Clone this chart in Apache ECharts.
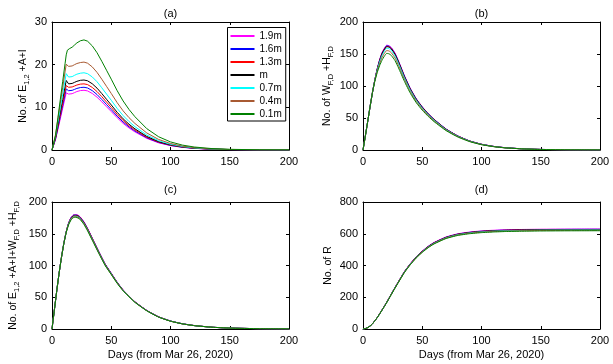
<!DOCTYPE html>
<html><head><meta charset="utf-8">
<script src="https://cdn.jsdelivr.net/npm/echarts@6/dist/echarts.min.js"></script>
<style>html,body{margin:0;padding:0;background:#fff}#c{width:613px;height:364px}</style>
</head><body><div id="c"></div>
<script>
// ---------- data ----------
const seriesNames = ['1.9m', '1.6m', '1.3m', 'm', '0.7m', '0.4m', '0.1m'];
const seriesColors = ['#ff00ff', '#0000ff', '#ff0000', '#000000', '#00ffff', '#a85a32', '#008000'];
const xTicks = [0, 50, 100, 150, 200];
const panelTitles = ['(a)', '(b)', '(c)', '(d)'];
const xLabel = 'Days (from Mar 26, 2020)';

// panel (a): No. of E1,2 + A + I
const daysA = [0,1,3,5,7,9,11,12,13,14,15,17,19,21,24,27,30,34,38,42,46,50,55,60,65,70,80,90,100,110,120,135,150,175,200];
const a_19m = [0,0,2.44,4.87,7.31,9.75,12.18,13.4,13.25,13.1,13.0,13.2,13.45,13.7,13.93,14.0,13.85,13.25,12.38,11.29,10.15,9.01,7.55,6.24,5.16,4.24,2.72,1.68,1.03,0.62,0.38,0.18,0.09,0.03,0.01];
const a_16m = [0,0,2.6,5.2,7.8,10.4,13.0,14.3,14.1,13.9,13.8,13.98,14.2,14.43,14.64,14.7,14.54,13.91,13.0,11.86,10.66,9.46,7.92,6.56,5.42,4.45,2.85,1.77,1.08,0.66,0.4,0.19,0.09,0.03,0.01];
const a_13m = [0,0,2.75,5.49,8.24,10.98,13.73,15.1,14.9,14.7,14.6,14.78,15.0,15.23,15.44,15.5,15.33,14.66,13.7,12.5,11.24,9.98,8.35,6.91,5.71,4.69,3.0,1.86,1.14,0.69,0.42,0.2,0.1,0.03,0.01];
const a_m   = [0,0,2.96,5.93,8.89,11.85,14.8,16.3,15.9,15.5,15.4,15.6,15.85,16.1,16.33,16.4,16.22,15.52,14.5,13.23,11.89,10.56,8.84,7.31,6.04,4.96,3.18,1.97,1.21,0.73,0.45,0.21,0.1,0.03,0.01];
const a_07m = [0,0,3.25,6.51,9.76,13.0,16.3,17.9,17.5,17.1,17.0,17.2,17.5,17.77,18.0,18.1,17.89,17.12,16.0,14.59,13.12,11.65,9.75,8.07,6.67,5.47,3.51,2.17,1.33,0.81,0.49,0.23,0.11,0.04,0.01];
const a_04m = [0,0,3.66,7.31,10.96,14.6,18.3,20.1,19.85,19.6,19.5,19.7,20.0,20.27,20.5,20.6,20.35,19.47,18.19,16.6,14.92,13.25,11.09,9.18,7.58,6.22,3.99,2.47,1.52,0.92,0.56,0.26,0.13,0.04,0.02];
const a_01m = [0,0,3.4,7.6,11.8,16.0,20.2,22.3,23.4,23.6,23.8,24.1,24.6,25.1,25.6,25.8,25.5,24.4,22.8,20.8,18.7,16.6,13.9,11.5,9.5,7.8,5.0,3.1,1.9,1.15,0.7,0.33,0.16,0.05,0.02];

// panels (b), (c), (d) share these days
const daysB = [0,2,4,6,8,10,12,14,16,18,20,22,24,27,30,35,40,45,50,55,60,70,80,90,100,110,120,135,150,175,200];

// panel (b): No. of WF,D + HF,D
const b_19m = [0,22,45,68,90,110,127,141,152,159,163.8,163,160,151.5,139,116,96,80,67.5,57,48,33,22,14.2,9,5.7,3.6,1.8,0.9,0.3,0.1];
const b_16m = [0,22,45,68,90,109.8,126.6,140.4,151.2,158.2,163.0,162.2,159.2,150.7,138.3,115.4,95.5,79.6,67.2,56.7,47.8,32.8,21.9,14.1,9.0,5.7,3.6,1.8,0.9,0.3,0.1];
const b_13m = [0,22,45,68,90,109.6,126.2,139.7,150.3,157.3,162.0,161.2,158.2,149.8,137.5,114.7,94.9,79.1,66.8,56.4,47.5,32.6,21.8,14.0,8.9,5.6,3.56,1.78,0.89,0.3,0.1];
const b_m   = [0,22,45,68,90,109.5,125.9,139.3,149.9,156.8,161.5,160.7,157.8,149.4,137.1,114.4,94.7,78.9,66.6,56.2,47.3,32.5,21.7,14.0,8.9,5.6,3.55,1.77,0.89,0.3,0.1];
const b_07m = [0,22,45,68,90,109.0,124.8,137.5,147.6,154.4,159.0,158.3,155.4,147.1,135.0,112.6,93.2,77.7,65.5,55.3,46.6,32.0,21.4,13.8,8.7,5.5,3.5,1.75,0.87,0.29,0.1];
const b_04m = [0,22,45,68,90,108.3,123.1,134.9,144.2,150.9,155.4,154.7,151.8,143.8,131.9,110.1,91.1,75.9,64.1,54.1,45.6,31.3,20.9,13.5,8.5,5.4,3.4,1.7,0.85,0.28,0.09];
const b_01m = [0,22,45,68,90,107.4,121.0,131.7,140.1,146.6,151.0,150.3,147.5,139.7,128.2,107.0,88.5,73.8,62.2,52.6,44.3,30.4,20.3,13.1,8.3,5.3,3.3,1.7,0.8,0.28,0.09];

// panel (c): No. of E1,2 + A + I + WF,D + HF,D
const c_19m = [0,30,60,88,113,135,153.5,167,175.5,179.5,180,179.3,176.2,168.7,158.6,139.4,120.2,102,87.9,73.7,61.6,42.9,29.3,19.2,12.6,8.3,5.5,2.8,1.46,0.5,0.17];
const c_16m = [0,30,60,88,113,135,153.4,166.8,175.1,179.2,179.7,178.7,175.7,168.2,158.1,139,119.8,101.7,87.6,73.5,61.4,42.8,29.2,19.1,12.6,8.3,5.4,2.8,1.46,0.5,0.17];
const c_13m = [0,30,60,88,113,135,153.2,166.5,174.6,178.7,179.2,178.2,175.2,167.7,157.6,138.6,119.5,101.4,87.3,73.3,61.2,42.7,29.1,19.1,12.5,8.2,5.4,2.8,1.45,0.5,0.17];
const c_m   = [0,30,60,88,113,135,153,166,174,178,178.5,177.5,174.5,167,157,138,119,101,87,73,61,42.5,29,19,12.5,8.2,5.4,2.8,1.45,0.5,0.17];
const c_07m = [0,30,60,88,113,135,152.8,165.5,173.4,177.3,177.8,176.8,173.8,166.3,156.4,137.4,118.5,100.6,86.7,72.7,60.8,42.3,28.9,18.9,12.5,8.2,5.4,2.8,1.44,0.5,0.17];
const c_04m = [0,30,60,88,113,134.8,152.5,164.9,172.6,176.6,177.1,176.1,173.1,165.7,155.7,136.9,118,100.2,86.3,72.4,60.5,42.2,28.8,18.8,12.4,8.1,5.4,2.8,1.44,0.5,0.17];
const c_01m = [0,30,60,88,112.8,134.5,151.8,164,171.5,175.3,175.8,174.8,171.9,164.5,154.6,135.9,117.2,99.5,85.7,71.9,60.1,41.9,28.6,18.7,12.3,8.1,5.3,2.8,1.43,0.5,0.17];

// panel (d): No. of R
const d_19m = [0,3,9.1,19.1,33.2,52.3,72.5,95.6,119.8,143.9,169.1,195.2,222.4,261.7,299.9,362.3,412.6,455.9,491.1,521.3,545.5,579.7,599.8,610.9,617.9,622,625,627,628.5,629.5,630];
const d_16m = [0,3,9,19.1,33.1,52.2,72.2,95.3,119.4,143.5,168.5,194.6,221.7,260.8,299,361.2,411.3,454.4,489.6,519.7,543.7,577.8,597.9,608.9,616,620,623,625,626.5,627.5,628];
const d_13m = [0,3,9,19,33.1,52.1,72.1,95.2,119.2,143.2,168.3,194.3,221.4,260.4,298.5,360.6,410.7,453.7,488.8,518.8,542.9,576.9,597,608,615,619,622,624,625.5,626.5,627];
const d_m   = [0,3,9,19,33,52,72,95,119,143,168,194,221,260,298,360,410,453,488,518,542,576,596,607,614,618,621,623,624.5,625.5,626];
const d_07m = [0,3,9,18.9,32.9,51.8,71.8,94.7,118.6,142.5,167.5,193.4,220.3,259.2,297,358.8,408.7,451.6,486.4,516.3,540.3,574.2,594.1,605.1,612,616,619,621,622.5,623.5,624];
const d_04m = [0,3,8.9,18.9,32.8,51.7,71.5,94.4,118.2,142.1,166.9,192.8,219.6,258.3,296.1,357.7,407.4,450.1,484.9,514.7,538.5,572.3,592.2,603.1,610,614,617,619,620.5,621.5,622];
const d_01m = [0,3,8.9,18.8,32.6,51.4,71.2,93.9,117.7,141.4,166.1,191.8,218.5,257.1,294.7,356,405.4,447.9,482.5,512.2,535.9,569.6,589.3,600.2,607,611,614,616,617.5,618.5,619];

const yMaxes = [30, 200, 200, 800];
const yIntervals = [10, 50, 50, 200];

// ---------- build ----------
const FONT = 'Liberation Sans, Arial, Helvetica, sans-serif';
const panelDays = [daysA, daysB, daysB, daysB];
const panelValues = [
  [a_19m, a_16m, a_13m, a_m, a_07m, a_04m, a_01m],
  [b_19m, b_16m, b_13m, b_m, b_07m, b_04m, b_01m],
  [c_19m, c_16m, c_13m, c_m, c_07m, c_04m, c_01m],
  [d_19m, d_16m, d_13m, d_m, d_07m, d_04m, d_01m]
];
const grids = [
  {left: 52, top: 22, width: 237, height: 128},
  {left: 363, top: 22, width: 237, height: 128},
  {left: 52, top: 202, width: 237, height: 127},
  {left: 363, top: 202, width: 237, height: 127}
];
const yNames = [
  '{t|No. of E}{s|1,2}{t| +A+I}',
  '{t|No. of W}{s|F,D}{t| +H}{s|F,D}',
  '{t|No. of E}{s|1,2}{t| +A+I+W}{s|F,D}{t| +H}{s|F,D}',
  '{t|No. of R}'
];
const yNameGaps = [21, 28, 31, 27];
const richName = {
  t: {fontSize: 10.5, fontFamily: FONT, color: '#000', lineHeight: 15, verticalAlign: 'middle'},
  s: {fontSize: 7.5, fontFamily: FONT, color: '#000', lineHeight: 9, verticalAlign: 'bottom'}
};

const xAxes = [], yAxes = [], series = [], titles = [];
const tickStyle = {show: true, inside: true, length: 3, lineStyle: {color: '#000', width: 1}};
const lineStyleAx = {show: true, onZero: false, lineStyle: {color: '#000', width: 1}};
grids.forEach((g, i) => {
  const bottomRow = i >= 2;
  xAxes.push({
    gridIndex: i, type: 'value', position: 'bottom', min: 0, max: 200, interval: 50,
    axisLine: lineStyleAx, axisTick: tickStyle, splitLine: {show: false},
    axisLabel: {color: '#000', fontSize: 11, fontFamily: FONT, margin: 6},
    name: bottomRow ? xLabel : '', nameLocation: 'middle', nameGap: 20,
    nameTextStyle: {fontSize: 11, fontFamily: FONT, color: '#000'}
  });
  xAxes.push({
    gridIndex: i, type: 'value', position: 'top', min: 0, max: 200, interval: 50,
    axisLine: lineStyleAx, axisTick: tickStyle, splitLine: {show: false},
    axisLabel: {show: false}
  });
  yAxes.push({
    gridIndex: i, type: 'value', position: 'left', min: 0, max: yMaxes[i], interval: yIntervals[i],
    axisLine: lineStyleAx, axisTick: tickStyle, splitLine: {show: false},
    axisLabel: {color: '#000', fontSize: 11, fontFamily: FONT, margin: 5},
    name: yNames[i], nameLocation: 'middle', nameGap: yNameGaps[i], nameRotate: 90,
    nameTextStyle: {fontSize: 10.5, fontFamily: FONT, color: '#000', rich: richName}
  });
  yAxes.push({
    gridIndex: i, type: 'value', position: 'right', min: 0, max: yMaxes[i], interval: yIntervals[i],
    axisLine: lineStyleAx, axisTick: tickStyle, splitLine: {show: false},
    axisLabel: {show: false}
  });
  titles.push({
    text: panelTitles[i], left: g.left + g.width / 2, top: g.top - (bottomRow ? 18 : 14),
    textAlign: 'center', padding: 0,
    textStyle: {fontSize: 11, fontWeight: 'normal', fontFamily: FONT, color: '#000'}
  });
  panelValues[i].forEach((vals, k) => {
    series.push({
      name: seriesNames[k], type: 'line', xAxisIndex: 2 * i, yAxisIndex: 2 * i,
      data: panelDays[i].map((d, j) => [d, vals[j]]),
      symbol: 'none', smooth: i === 0 ? false : 0.15,
      lineStyle: {color: seriesColors[k], width: 1},
      itemStyle: {color: seriesColors[k]},
      animation: false, silent: true
    });
  });
});

const chart = echarts.init(document.getElementById('c'), null, {renderer: 'canvas'});
chart.setOption({
  animation: false,
  backgroundColor: '#fff',
  title: titles,
  grid: grids.map(g => Object.assign({containLabel: false, outerBoundsMode: 'none'}, g)),
  xAxis: xAxes,
  yAxis: yAxes,
  legend: {
    data: seriesNames, orient: 'vertical', left: 227.5, top: 27.5,
    padding: [2.5, 4, 1, 3], itemGap: 1, itemWidth: 24, itemHeight: 2, icon: 'rect',
    borderColor: '#000', borderWidth: 1, backgroundColor: '#fff',
    textStyle: {fontSize: 10, fontFamily: FONT, color: '#000', lineHeight: 12},
    selectedMode: false
  },
  series: series
});
</script>
</body></html>
